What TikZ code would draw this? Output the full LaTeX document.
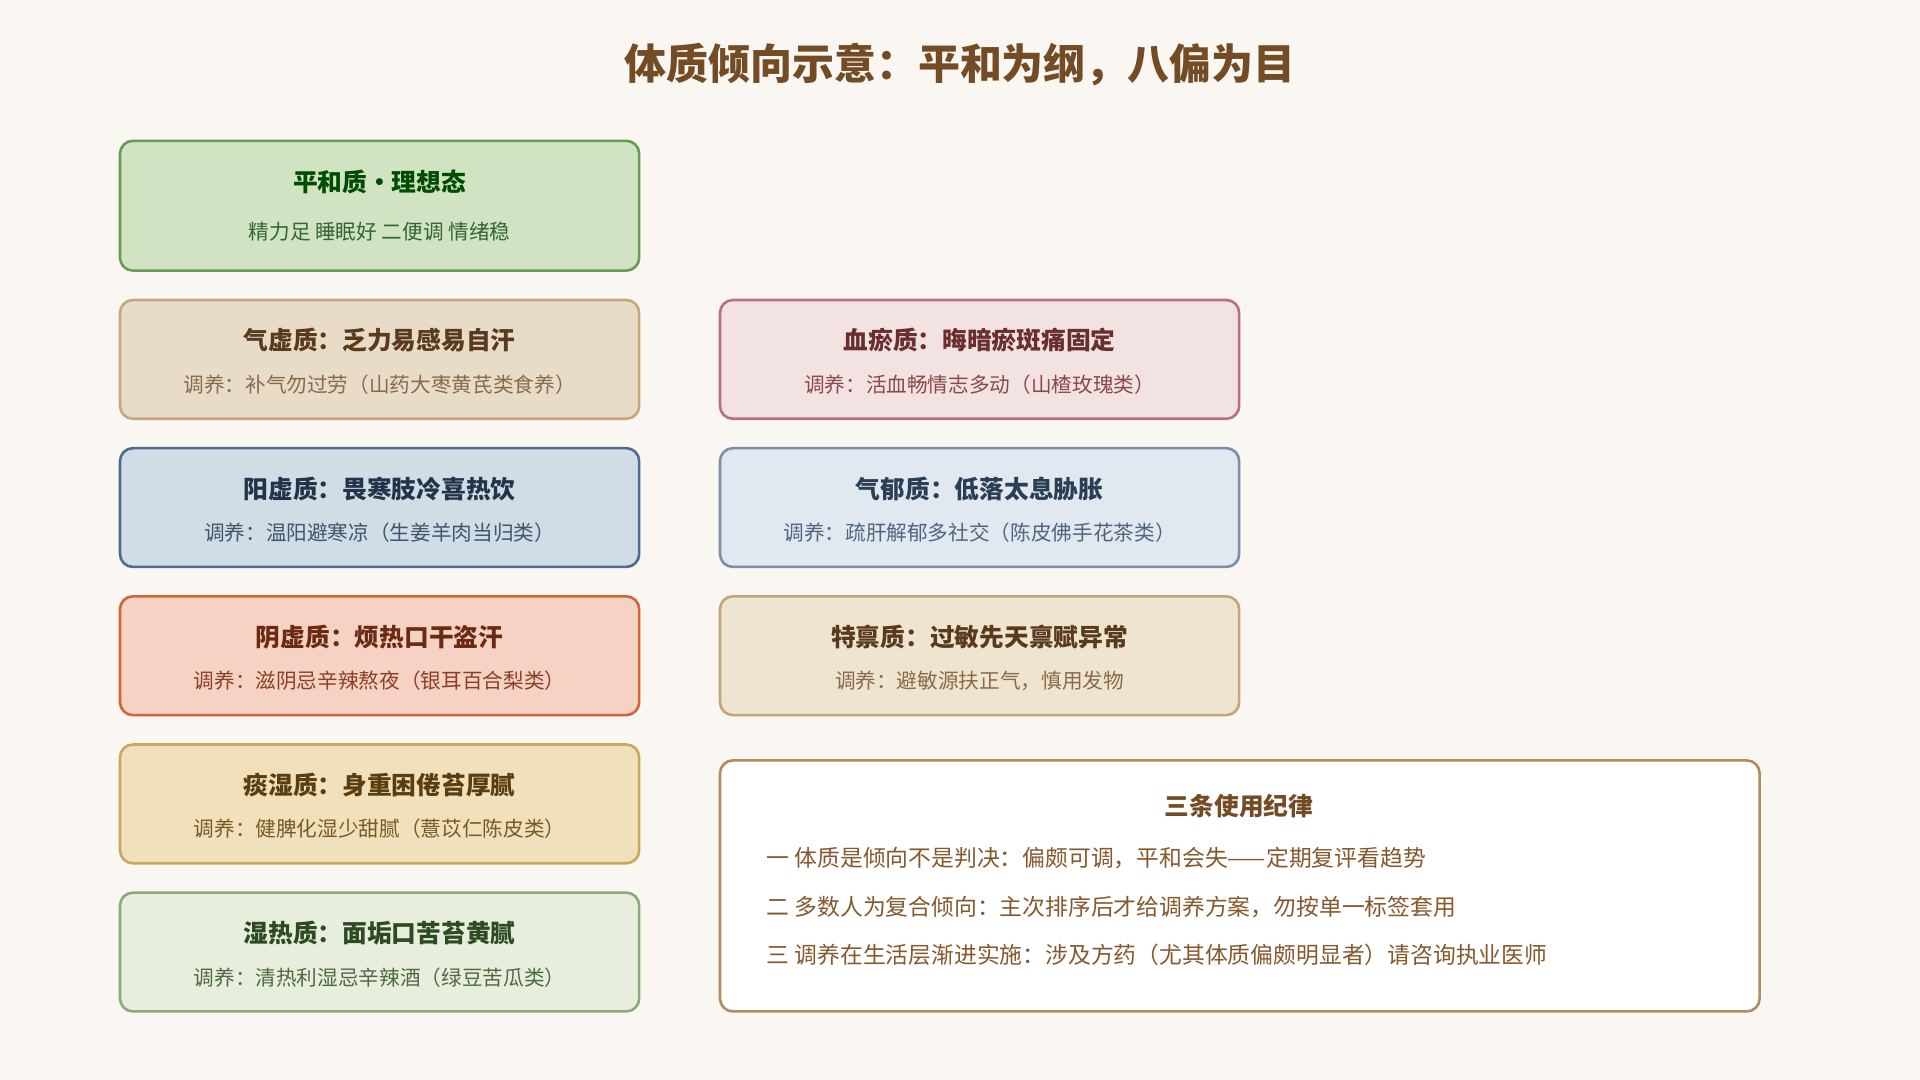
\documentclass[tikz,border=0pt]{standalone}
\usepackage{fontspec}
\setmainfont{Noto Sans CJK SC}
\begin{document}
\begin{tikzpicture}[x=0.02cm,y=-0.02cm,
 box/.style n args={2}{draw=#2,fill=#1,line width=1.2pt,rounded corners=6pt},
 tt/.style={font=\fontsize{11.5}{13}\selectfont\bfseries},
 st/.style={font=\fontsize{9.6}{11}\selectfont}]
\definecolor{bg}{HTML}{FAF6F1}
\fill[bg] (0,0) rectangle (1568,882);
\useasboundingbox (0,0) rectangle (1568,882);
\node[font=\fontsize{19.5}{22}\selectfont\bfseries,text=brown!60!black] (title) at (784,53) {体质倾向示意：平和为纲，八偏为目};
% helper macro
\newcommand{\cbox}[9]{%
 \definecolor{f#1}{HTML}{#4}\definecolor{d#1}{HTML}{#5}\definecolor{t#1}{HTML}{#6}\definecolor{s#1}{HTML}{#7}%
 \draw[box={f#1}{d#1}] (#2,#3) rectangle ++(424,97);
 \node[tt,text=t#1] (#1t) at (#2+212,#3+33) {#8};
 \node[st,text=s#1] (#1s) at (#2+212,#3+69) {#9};}
\definecolor{fph}{HTML}{D0E3C2}\definecolor{dph}{HTML}{6A9A58}
\draw[box={fph}{dph}] (98,115) rectangle (522,221);
\node[tt,text=green!30!black] (pht) at (310,149) {平和质·理想态};
\node[st,text=green!25!black!80] (phs) at (310,189) {精力足 睡眠好 二便调 情绪稳};
\cbox{qx}{98}{245}{E8DCC8}{C7A57E}{5A3A1E}{8A6A4A}{气虚质：乏力易感易自汗}{调养：补气勿过劳（山药大枣黄芪类食养）}
\cbox{xy}{588}{245}{F2E2E2}{B87080}{6A2E2E}{8A4A4A}{血瘀质：晦暗瘀斑痛固定}{调养：活血畅情志多动（山楂玫瑰类）}
\cbox{yx}{98}{366}{D0DCE6}{4F6C8C}{22344A}{3F566E}{阳虚质：畏寒肢冷喜热饮}{调养：温阳避寒凉（生姜羊肉当归类）}
\cbox{qy}{588}{366}{E2E8F0}{7A8FA8}{2A3E56}{4F6680}{气郁质：低落太息胁胀}{调养：疏肝解郁多社交（陈皮佛手花茶类）}
\cbox{yi}{98}{487}{F6D2C4}{D0643A}{6A2A14}{8A4026}{阴虚质：烦热口干盗汗}{调养：滋阴忌辛辣熬夜（银耳百合梨类）}
\cbox{tb}{588}{487}{EEE4D0}{C4A47A}{5A3A1E}{8A6A4A}{特禀质：过敏先天禀赋异常}{调养：避敏源扶正气，慎用发物}
\cbox{ts}{98}{608}{F0E0BC}{C8A860}{5A3E10}{7A5A24}{痰湿质：身重困倦苔厚腻}{调养：健脾化湿少甜腻（薏苡仁陈皮类）}
\cbox{sr}{98}{729}{E8EEDE}{8AAA7A}{2E4A22}{4E6A40}{湿热质：面垢口苦苔黄腻}{调养：清热利湿忌辛辣酒（绿豆苦瓜类）}
\definecolor{dr}{HTML}{B08C60}
\draw[box={white}{dr}] (588,621) rectangle (1437,826);
\node[font=\fontsize{11.5}{13}\selectfont\bfseries,text=brown!60!black] (rt) at (1012,658) {三条使用纪律};
\begin{scope}[every node/.style={anchor=west,font=\fontsize{10.6}{12}\selectfont,text=brown!70!black}]
\node (r1) at (620,701) {一 体质是倾向不是判决：偏颇可调，平和会失——定期复评看趋势};
\node (r2) at (620,741) {二 多数人为复合倾向：主次排序后才给调养方案，勿按单一标签套用};
\node (r3) at (620,780) {三 调养在生活层渐进实施：涉及方药（尤其体质偏颇明显者）请咨询执业医师};
\end{scope}
\end{tikzpicture}
\end{document}
